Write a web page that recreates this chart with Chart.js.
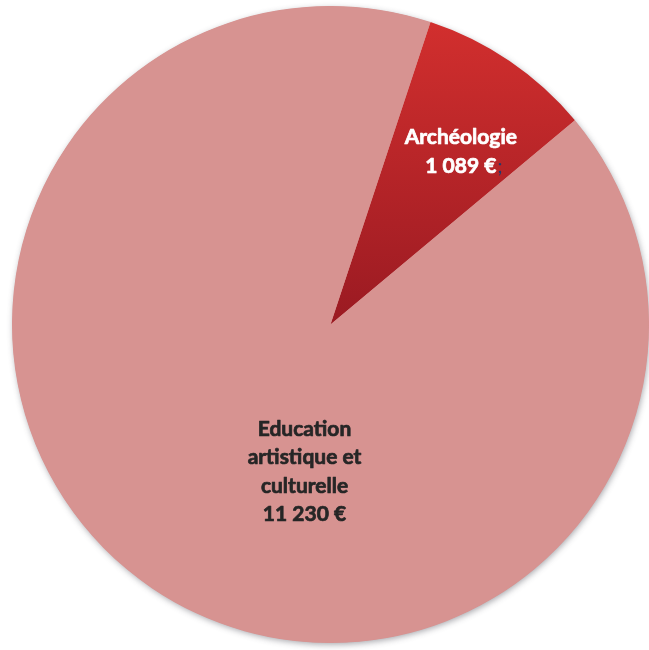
<!DOCTYPE html>
<html>
<head>
<meta charset="utf-8">
<script src="https://cdn.jsdelivr.net/npm/chart.js@4/dist/chart.umd.min.js"></script>
<style>
	html, body { margin: 0; padding: 0; background: #fff; }
	canvas { display: block; }
</style>
</head>
<body>
<canvas id="chart" width="649" height="650"></canvas>
<script>
'use strict';

var LABELS = ['Archéologie', 'Education artistique et culturelle'];
var VALUES = [1089, 11230];
var LABEL_LINES = [
	['Archéologie', '1 089 €'],
	['Education', 'artistique et', 'culturelle', '11 230 €']
];

// where each label sits: angle from 12 o'clock (deg) and fraction of the radius
var LABEL_POS = [
	{ angle: 37, frac: 0.68, color: '#ffffff' },
	{ angle: 190, frac: 0.47, color: '#262626' }
];

var FONT = 'bold 21px Lato, "Noto Sans", sans-serif';

function sliceColor(context) {
	if (context.dataIndex === 1) {
		return '#d79391';
	}
	var chart = context.chart;
	var area = chart.chartArea;
	if (!area) {
		return '#b82428';
	}
	var cy = (area.top + area.bottom) / 2;
	var g = chart.ctx.createLinearGradient(0, area.top + 15, 0, cy);
	g.addColorStop(0, '#d22f2e');
	g.addColorStop(1, '#9a1a22');
	return g;
}

// one soft shadow behind the whole disc
var shadowPlugin = {
	id: 'shadow',
	beforeDatasetsDraw: function(chart) {
		var arc = chart.getDatasetMeta(0).data[0];
		if (!arc) {
			return;
		}
		var ctx = chart.ctx;
		ctx.save();
		ctx.shadowColor = 'rgba(60, 60, 70, 0.45)';
		ctx.shadowBlur = 6;
		ctx.shadowOffsetX = 1;
		ctx.shadowOffsetY = 2;
		ctx.fillStyle = '#d79391';
		ctx.beginPath();
		ctx.arc(arc.x, arc.y, arc.outerRadius - 0.5, 0, Math.PI * 2);
		ctx.fill();
		ctx.restore();
	}
};

var labelPlugin = {
	id: 'sliceLabels',
	afterDatasetsDraw: function(chart) {
		var ctx = chart.ctx;
		var meta = chart.getDatasetMeta(0);
		ctx.save();
		ctx.font = FONT;
		ctx.textAlign = 'center';
		ctx.textBaseline = 'middle';
		ctx.lineWidth = 0.7;
		ctx.lineJoin = 'round';
		meta.data.forEach(function(arc, i) {
			var pos = LABEL_POS[i];
			var a = (pos.angle - 90) * Math.PI / 180;
			var r = arc.outerRadius * pos.frac;
			var x = arc.x + Math.cos(a) * r;
			var y = arc.y + Math.sin(a) * r;
			var lines = LABEL_LINES[i];
			var lh = 28.5;
			var y0 = y - (lines.length - 1) * lh / 2;
			ctx.fillStyle = pos.color;
			ctx.strokeStyle = pos.color;
			lines.forEach(function(line, j) {
				ctx.fillText(line, x, y0 + j * lh);
				ctx.strokeText(line, x, y0 + j * lh);
			});
			if (i === 0) {
				// stray semicolon after the amount, as in the original
				var last = lines[lines.length - 1];
				var w = ctx.measureText(last).width;
				ctx.textAlign = 'left';
				ctx.fillStyle = '#1f3a6e';
				ctx.font = '19px Lato, "Noto Sans", sans-serif';
				ctx.fillText(';', x + w / 2 + 1, y0 + (lines.length - 1) * lh + 1);
				ctx.font = FONT;
				ctx.textAlign = 'center';
			}
		});
		ctx.restore();
	}
};

new Chart(document.getElementById('chart'), {
	type: 'pie',
	data: {
		labels: LABELS,
		datasets: [{
			data: VALUES,
			backgroundColor: sliceColor,
			borderWidth: 0,
			hoverOffset: 0
		}]
	},
	options: {
		responsive: false,
		animation: false,
		rotation: 18.3,
		layout: {
			padding: { left: 12, right: 0, top: 6, bottom: 7 }
		},
		plugins: {
			legend: { display: false },
			tooltip: { enabled: false }
		}
	},
	plugins: [shadowPlugin, labelPlugin]
});
</script>
</body>
</html>
